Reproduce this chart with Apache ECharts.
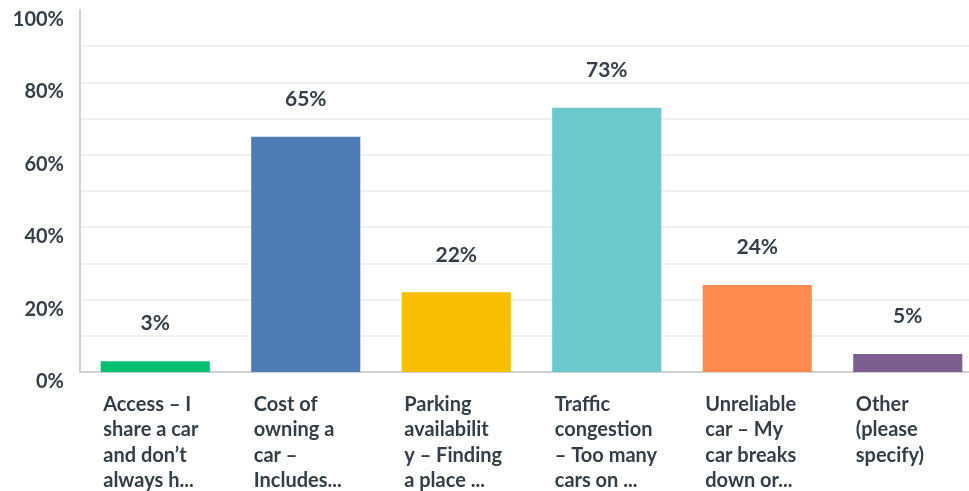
<!DOCTYPE html>
<html>
<head>
<meta charset="utf-8">
<script src="https://cdn.jsdelivr.net/npm/echarts@6/dist/echarts.min.js"></script>
<style>
  html, body { margin: 0; padding: 0; background: #fff; overflow: hidden; }
  #chart { width: 983px; height: 491px; }
</style>
</head>
<body>
<div id="chart"></div>
<script>
// Answer choices (as shown, truncated and wrapped)
var categories = [
  'Access – I\nshare a car\nand don’t\nalways h...',
  'Cost of\nowning a\ncar –\nIncludes...',
  'Parking\navailabilit\ny – Finding\na place ...',
  'Traffic\ncongestion\n– Too many\ncars on ...',
  'Unreliable\ncar – My\ncar breaks\ndown or...',
  'Other\n(please\nspecify)'
];
// Percentage of respondents per choice
var values = [3, 65, 22, 73, 24, 5];
var barColors = ['#00BF6F', '#507CB6', '#F9BE00', '#6BC8CD', '#FF8B4F', '#7D5E90'];

var textColor = '#333E48';
var fontFamily = 'Lato, "Open Sans", sans-serif';

var chart = echarts.init(document.getElementById('chart'), null, { renderer: 'canvas' });

// light grid lines, none at the top (100%)
var splitColors = [];
for (var i = 0; i < 10; i++) splitColors.push('#EBEBEB');
splitColors.push('rgba(0,0,0,0)');

chart.setOption({
  animation: false,
  textStyle: { fontFamily: fontFamily },
  grid: { left: 80, right: 0, top: 10, bottom: 119, containLabel: false },
  xAxis: {
    type: 'category',
    data: categories,
    axisLine: { show: true, lineStyle: { color: '#D0D0D0', width: 2 } },
    axisTick: { show: false },
    axisLabel: {
      interval: 0,
      margin: 20,
      formatter: function (v) { return '{t|' + v + '}'; },
      rich: {
        t: {
          width: 104,
          align: 'left',
          color: textColor,
          fontSize: 20,
          fontWeight: 'bold',
          lineHeight: 25.3,
          fontFamily: fontFamily
        }
      }
    }
  },
  yAxis: {
    type: 'value',
    min: 0,
    max: 100,
    interval: 10,
    axisLine: { show: true, lineStyle: { color: '#D0D0D0', width: 2 } },
    axisTick: { show: false },
    splitLine: { show: true, lineStyle: { color: splitColors, width: 1.5 } },
    axisLabel: {
      margin: 16,
      verticalAlign: 'top',
      lineHeight: 19,
      color: textColor,
      fontSize: 20,
      fontWeight: 'bold',
      fontFamily: fontFamily,
      formatter: function (v) { return v % 20 === 0 ? v + '%' : ''; }
    }
  },
  series: [{
    type: 'bar',
    data: values.map(function (v, i) {
      return { value: v, itemStyle: { color: barColors[i] } };
    }),
    barCategoryGap: '27.5%',
    label: {
      show: true,
      position: 'top',
      distance: 27,
      color: textColor,
      fontSize: 21,
      fontWeight: 'bold',
      fontFamily: fontFamily,
      formatter: function (p) { return p.value + '%'; }
    }
  }]
});
</script>
</body>
</html>
